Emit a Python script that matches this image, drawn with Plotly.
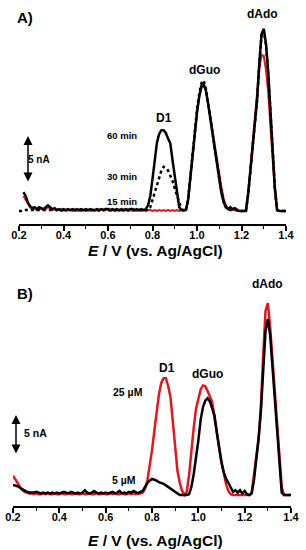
import plotly.graph_objects as go

# ---------------- data (potential grid, V) ----------------
E = [round(0.20 + 0.01 * i, 2) for i in range(121)]
TICK_VALS = [0.2, 0.4, 0.6, 0.8, 1.0, 1.2, 1.4]
TICK_LABELS = ["0.2", "0.4", "0.6", "0.8", "1.0", "1.2", "1.4"]

# Panel A: currents (nA)
A_60min = [None, None, 2.0, 1.6, 0.9, 0.5, 0.3, 0.4, 0.2, 0.4,   # 0.20-0.29
           0.3, 0.2, 0.4, 0.6, 0.4, 0.2, 0.3, 0.1, 0.2, 0.1,       # 0.30-0.39
           0.2, 0.1, 0.2, 0.1, 0.2, 0.1, 0.2, 0.1, 0.2, 0.1,       # 0.40-0.49
           0.2, 0.1, 0.2, 0.1, 0.1, 0.2, 0.1, 0.2, 0.1, 0.2,       # 0.50-0.59
           0.2, 0.1, 0.2, 0.1, 0.2, 0.1, 0.2, 0.1, 0.2, 0.1,       # 0.60-0.69
           0.2, 0.2, 0.1, 0.2, 0.1, 0.2, 0.1, 0.2, 0.6, 1.6,       # 0.70-0.79
           3.4, 5.3, 7.3, 8.2, 8.6, 8.6, 8.3, 7.7, 7.2, 5.4,       # 0.80-0.89
           3.6, 1.6, 0.4, 0.1, 0.1, 0.1, 1.2, 3.5, 6.3, 8.5,       # 0.90-0.99
           10.5, 12.2, 13.3, 13.5, 12.8, 11.4, 9.7, 8.0, 6.4, 5.0, # 1.00-1.09
           3.4, 1.9, 0.9, 0.4, 0.2, 0.4, 0.2, 0.3, 0.1, 0.0,       # 1.10-1.19
           0.0, 0.0, 0.0, 1.8, 4.3, 6.8, 9.0, 11.8, 15.7, 18.8,    # 1.20-1.29
           19.4, 17.8, 14.8, 10.5, 5.6, 2.5, 0.1, 0.0, 0.0, 0.0,   # 1.30-1.39
           0.0]                                                    # 1.40

A_30min = [0.0, 0.0, 0.1, 0.1, 0.1, 0.1, 0.1, 0.1, 0.1, 0.1,
           0.1, 0.1, 0.1, 0.1, 0.1, 0.1, 0.1, 0.1, 0.1, 0.1,
           0.1, 0.1, 0.1, 0.1, 0.1, 0.1, 0.1, 0.1, 0.1, 0.1,
           0.1, 0.1, 0.1, 0.1, 0.1, 0.1, 0.1, 0.1, 0.1, 0.1,
           0.1, 0.1, 0.1, 0.1, 0.1, 0.1, 0.1, 0.1, 0.1, 0.1,
           0.1, 0.1, 0.1, 0.1, 0.1, 0.1, 0.1, 0.1, 0.1, 0.4,
           1.2, 2.0, 2.8, 3.6, 4.3, 4.7, 4.6, 4.3, 3.8, 3.2,
           2.4, 1.6, 0.8, 0.2, 0.0, 0.1, 1.2, 3.6, 6.5, 8.8,
           10.8, 12.5, 13.6, 13.9, 13.0, 11.5, 9.8, 8.1, 6.5, 5.1,
           3.5, 2.0, 1.0, 0.4, 0.2, 0.1, 0.1, 0.1, 0.1, 0.0,
           0.0, 0.0, 0.0, 1.8, 4.3, 6.8, 9.0, 11.8, 15.6, 18.7,
           19.2, 17.6, 14.6, 10.3, 5.5, 2.4, 0.1, 0.0, 0.0, 0.0,
           0.0]

A_15min = [None, None, 1.6, 1.2, 0.8, 0.4, 0.2, 0.3, 0.1, 0.2,
           0.2, 0.1, 0.2, 0.4, 0.3, 0.1, 0.2, 0.1, 0.1, 0.0,
           0.1, 0.0, 0.1, 0.1, 0.0, 0.1, 0.0, 0.1, 0.0, 0.1,
           0.0, 0.1, 0.0, 0.1, 0.0, 0.1, 0.0, 0.2, 0.1, 0.2,
           0.1, 0.0, 0.1, 0.0, 0.1, 0.0, 0.1, 0.0, 0.1, 0.0,
           0.1, 0.0, 0.1, 0.0, 0.1, 0.0, 0.1, 0.0, 0.1, 0.1,
           0.0, 0.1, 0.0, 0.1, 0.0, 0.1, 0.0, 0.1, 0.0, 0.1,
           0.0, 0.1, 0.0, 0.1, 0.0, 0.1, 1.1, 3.4, 6.2, 8.4,
           10.4, 12.1, 13.1, 13.4, 12.8, 11.5, 9.9, 8.4, 6.9, 5.6,
           4.0, 2.5, 1.3, 0.6, 0.3, 0.2, 0.1, 0.1, 0.0, 0.0,
           0.0, 0.0, 0.1, 2.0, 4.6, 7.2, 9.6, 12.4, 15.2, 16.6,
           16.5, 15.0, 12.6, 9.0, 5.0, 2.0, 0.1, 0.0, 0.0, 0.0,
           0.0]

# Panel B: currents (nA)
B_25uM = [2.4, 2.0, 1.5, 1.0, 0.6, 0.4, 0.3, 0.2, 0.2, 0.1,
          0.2, 0.1, 0.1, 0.2, 0.1, 0.2, 0.1, 0.1, 0.2, 0.1,
          0.1, 0.2, 0.1, 0.1, 0.2, 0.1, 0.1, 0.2, 0.1, 0.1,
          0.2, 0.1, 0.1, 0.2, 0.1, 0.1, 0.2, 0.1, 0.1, 0.2,
          0.1, 0.1, 0.2, 0.1, 0.2, 0.1, 0.1, 0.2, 0.1, 0.1,
          0.2, 0.1, 0.2, 0.1, 0.2, 0.2, 0.3, 0.8, 1.8, 3.5,
          5.6, 8.0, 10.5, 12.6, 14.0, 14.6, 14.6, 13.6, 12.2, 9.0,
          5.4, 3.0, 1.5, 0.5, 0.0, 0.4, 2.5, 5.8, 8.4, 10.8,
          12.2, 13.2, 13.7, 13.6, 13.0, 12.4, 11.6, 9.6, 7.5, 5.9,
          4.2, 2.6, 1.3, 0.5, 0.1, 0.0, 0.0, 0.0, 0.0, 0.0,
          0.0, 0.0, 0.0, 0.2, 2.2, 4.8, 7.0, 11.0, 17.5, 23.0,
          24.0, 21.0, 17.0, 13.0, 9.5, 5.0, 1.0, 0.0, 0.0, 0.0,
          0.0]

B_5uM = [1.25, 1.2, 1.1, 0.9, 0.7, 0.5, 0.4, 0.3, 0.3, 0.3,
         0.4, 0.3, 0.2, 0.3, 0.2, 0.3, 0.2, 0.3, 0.2, 0.3,
         0.2, 0.3, 0.4, 0.3, 0.2, 0.4, 0.3, 0.2, 0.3, 0.2,
         0.3, 0.6, 0.3, 0.2, 0.3, 0.5, 0.3, 0.2, 0.3, 0.2,
         0.3, 0.2, 0.3, 0.4, 0.2, 0.3, 0.5, 0.2, 0.3, 0.2,
         0.4, 0.3, 0.5, 0.3, 0.2, 0.4, 0.5, 1.0, 1.5, 1.8,
         2.0, 1.9, 1.8, 1.6, 1.5, 1.4, 1.2, 1.0, 0.8, 0.5,
         0.3, 0.1, 0.0, 0.0, 0.0, 0.0, 0.1, 1.0, 2.6, 4.5,
         6.8, 9.4, 11.0, 11.8, 12.1, 11.7, 10.8, 9.9, 7.8, 5.9,
         4.0, 2.8, 2.0, 1.5, 0.9, 0.4, 0.6, 0.3, 0.6, 0.2,
         0.5, 0.1, 0.0, 0.2, 1.8, 4.3, 7.0, 10.5, 15.5, 20.5,
         22.0, 20.0, 16.0, 12.0, 8.0, 3.5, 0.3, 0.0, 0.0, 0.0,
         0.0]

RED = "#e3161e"
W, H = 306, 550


def px_x(p):
    return p / W


def px_y(p):
    return 1 - p / H


fig = go.Figure()
# Panel A
fig.add_trace(go.Scatter(x=E, y=A_15min, mode="lines", line=dict(color=RED, width=2),
                         xaxis="x", yaxis="y", showlegend=False))
fig.add_trace(go.Scatter(x=E, y=A_30min, mode="lines", line=dict(color="black", width=2.5, dash="dot"),
                         xaxis="x", yaxis="y", showlegend=False))
fig.add_trace(go.Scatter(x=E, y=A_60min, mode="lines", line=dict(color="black", width=2.5),
                         xaxis="x", yaxis="y", showlegend=False))
# Panel B
fig.add_trace(go.Scatter(x=E, y=B_25uM, mode="lines", line=dict(color=RED, width=2.5),
                         xaxis="x2", yaxis="y2", showlegend=False))
fig.add_trace(go.Scatter(x=E, y=B_5uM, mode="lines", line=dict(color="black", width=2.5),
                         xaxis="x2", yaxis="y2", showlegend=False))

tick_font = dict(family="Liberation Sans, Arial", size=11, color="black", weight="bold")
xcommon = dict(range=[0.2, 1.4], tickvals=TICK_VALS, ticktext=TICK_LABELS,
               showline=True, linecolor="black", linewidth=1.5,
               ticks="outside", ticklen=5, tickwidth=1.5, tickcolor="black",
               minor=dict(dtick=0.1, tick0=0.1, ticks="outside", ticklen=3, tickwidth=1.2, tickcolor="black"),
               showgrid=False, zeroline=False, tickfont=tick_font, ticklabelstandoff=-5)

# Panel A: baseline at px 211, axis at 224, 9.4 px/nA
fig.update_layout(
    width=W, height=H, margin=dict(l=0, r=0, t=0, b=0, autoexpand=False),
    paper_bgcolor="white", plot_bgcolor="white",
    xaxis=dict(domain=[px_x(19), px_x(286)], anchor="y", **xcommon),
    yaxis=dict(domain=[px_y(224), px_y(10)], range=[-13 / 9.4, (211 - 10) / 9.4], visible=False),
    xaxis2=dict(domain=[px_x(13), px_x(291)], anchor="y2", **xcommon),
    yaxis2=dict(domain=[px_y(506), px_y(280)], range=[-11 / 8, (495 - 280) / 8], visible=False),
)

bold = "Liberation Sans, Arial"


def label(text, x, y, size, **kw):
    fig.add_annotation(text=text, x=px_x(x), y=px_y(y), xref="paper", yref="paper",
                       showarrow=False, xanchor="center", yanchor="middle",
                       font=dict(family=bold, size=size, color="black", weight="bold"), **kw)


# Panel A labels
label("A)", 25, 18, 15)
label("dAdo", 262, 14, 12)
label("dGuo", 205, 70, 12)
label("D1", 164, 118, 12)
label("60 min", 122, 135, 9.5)
label("30 min", 122, 177, 9.5)
label("15 min", 122, 202, 9.5)
label("5 nA", 39, 159, 10)
label("<i>E</i> / V (vs. Ag/AgCl)", 155, 251, 15.5)

# Panel B labels
label("B)", 25, 293, 15)
label("dAdo", 267, 284, 12)
label("dGuo", 207, 374, 12)
label("D1", 167, 368, 12)
label("25 µM", 128, 392, 10.5)
label("5 µM", 124, 480, 10.5)
label("5 nA", 35, 433, 10.5)
label("<i>E</i> / V (vs. Ag/AgCl)", 155, 540, 15.5)

# scale bars (double-headed arrows)
for (xa, ytop, ybot) in [(28, 136, 183), (16, 415, 455)]:
    fig.add_annotation(x=px_x(xa), y=px_y(ytop), xref="paper", yref="paper",
                       ax=0, ay=ybot - ytop, text="", showarrow=True,
                       arrowhead=2, arrowside="end+start", arrowsize=1.2,
                       arrowwidth=1.5, arrowcolor="black", standoff=0, startstandoff=0)

fig.write_html("out.html", config={"displayModeBar": False},
               post_script="document.body.style.margin='0';")
